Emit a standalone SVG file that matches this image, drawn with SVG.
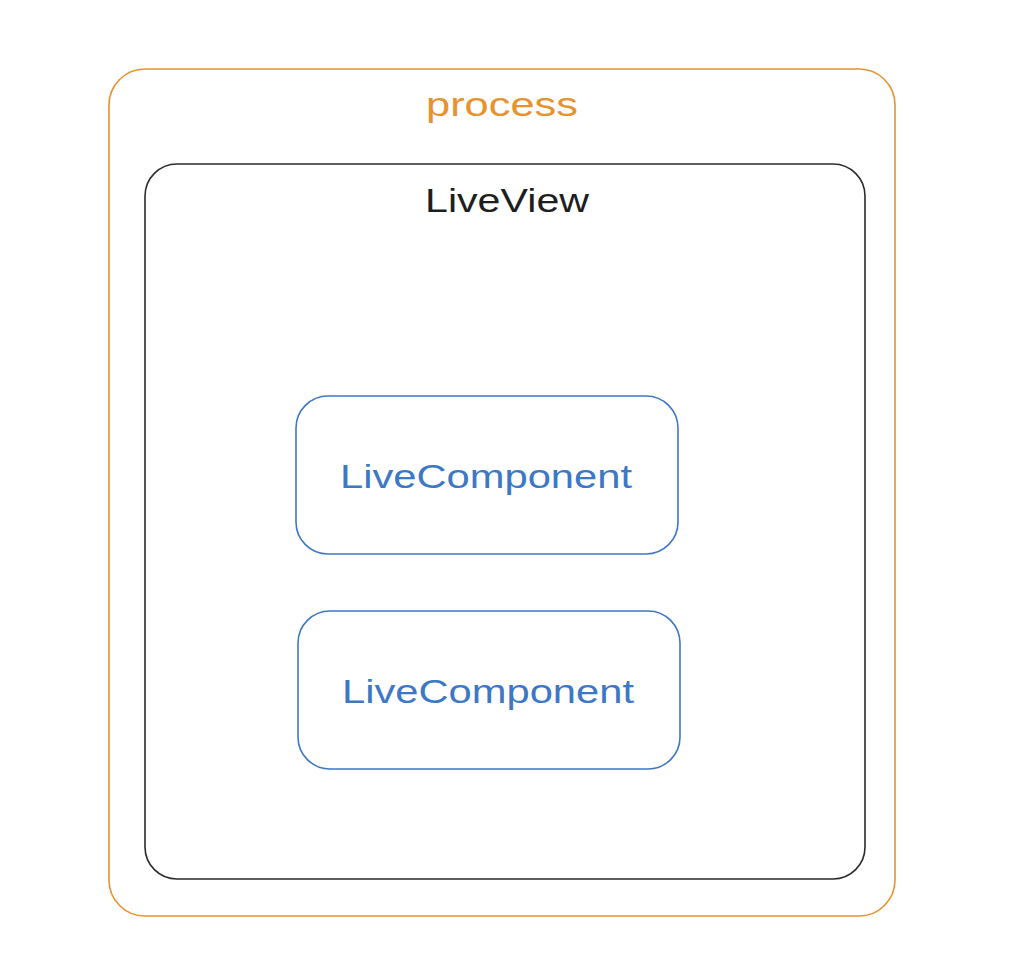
<svg xmlns="http://www.w3.org/2000/svg" width="1024" height="980" viewBox="0 0 1024 980">
<style>
.lbl{font-family:"Liberation Sans","DejaVu Sans",sans-serif;font-size:34px;text-anchor:middle}
.box{fill:#ffffff;stroke-width:1.6}
</style>
<rect width="1024" height="980" fill="#ffffff"/>
<g id="process">
<rect class="box" x="109" y="69" width="786" height="847" rx="36" ry="36" stroke="#e8922e"/>
<text class="lbl" x="502" y="116" fill="#e8922e" textLength="152" lengthAdjust="spacingAndGlyphs">process</text>
</g>
<g id="liveview">
<rect class="box" x="145" y="164" width="720" height="715" rx="32" ry="32" stroke="#2b2b2b"/>
<text class="lbl" x="507" y="212" fill="#1e1e1e" textLength="164" lengthAdjust="spacingAndGlyphs">LiveView</text>
</g>
<g id="livecomponent1">
<rect class="box" x="296" y="396" width="382" height="158" rx="32" ry="32" stroke="#3d78c6"/>
<text class="lbl" x="486" y="488" fill="#3d78c6" textLength="292" lengthAdjust="spacingAndGlyphs">LiveComponent</text>
</g>
<g id="livecomponent2">
<rect class="box" x="298" y="611" width="382" height="158" rx="32" ry="32" stroke="#3d78c6"/>
<text class="lbl" x="488" y="703" fill="#3d78c6" textLength="292" lengthAdjust="spacingAndGlyphs">LiveComponent</text>
</g>
<g id="connectors"></g>
</svg>
